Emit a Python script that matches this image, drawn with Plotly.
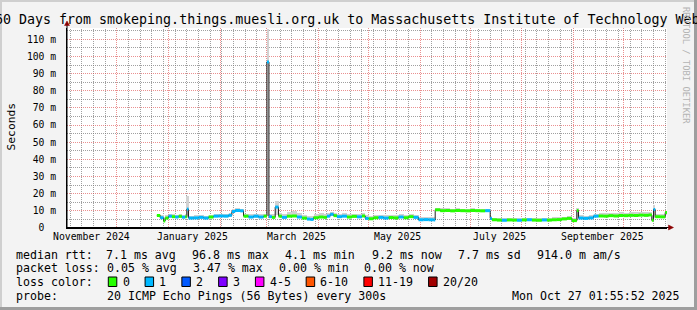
import plotly.graph_objects as go
import pandas as pd

# ---------------- data ----------------
range_start = "2024-11-01 01:55:52"
range_end = "2025-10-27 01:55:52"

dates = [
    "2024-12-25", "2024-12-27", "2024-12-29", "2024-12-30", "2025-01-01", "2025-01-03",
    "2025-01-05", "2025-01-07", "2025-01-09", "2025-01-11", "2025-01-12", "2025-01-13",
    "2025-01-16", "2025-01-19", "2025-01-22", "2025-01-25", "2025-01-28", "2025-01-31",
    "2025-02-03", "2025-02-06", "2025-02-08", "2025-02-10", "2025-02-13", "2025-02-15",
    "2025-02-18", "2025-02-21", "2025-02-24", "2025-02-27", "2025-03-01", "2025-03-02 06:00",
    "2025-03-04", "2025-03-06", "2025-03-08", "2025-03-10", "2025-03-13", "2025-03-16",
    "2025-03-19", "2025-03-22", "2025-03-25", "2025-03-27", "2025-03-29", "2025-04-01",
    "2025-04-04", "2025-04-06", "2025-04-08", "2025-04-10", "2025-04-12", "2025-04-15",
    "2025-04-18", "2025-04-21", "2025-04-24", "2025-04-27", "2025-04-29", "2025-05-01",
    "2025-05-04", "2025-05-07", "2025-05-10", "2025-05-13", "2025-05-16", "2025-05-19",
    "2025-05-22", "2025-05-25", "2025-05-28", "2025-05-31", "2025-06-03", "2025-06-06",
    "2025-06-09", "2025-06-10", "2025-06-13", "2025-06-16", "2025-06-19", "2025-06-22",
    "2025-06-25", "2025-06-28", "2025-07-01", "2025-07-04", "2025-07-07", "2025-07-10",
    "2025-07-13", "2025-07-14", "2025-07-17", "2025-07-20", "2025-07-23", "2025-07-26",
    "2025-07-29", "2025-08-01", "2025-08-04", "2025-08-07", "2025-08-10", "2025-08-13",
    "2025-08-16", "2025-08-19", "2025-08-22", "2025-08-25", "2025-08-28", "2025-08-31",
    "2025-09-03", "2025-09-04", "2025-09-07", "2025-09-10", "2025-09-13", "2025-09-16",
    "2025-09-19", "2025-09-22", "2025-09-25", "2025-09-28", "2025-10-01", "2025-10-04",
    "2025-10-07", "2025-10-10", "2025-10-13", "2025-10-16", "2025-10-18", "2025-10-19",
    "2025-10-20", "2025-10-23", "2025-10-26",
]
median_ms = [
    7.3, 6.0, 4.1, 5.8, 6.9, 6.6,
    6.4, 6.8, 6.3, 6.6, 11.0, 5.8,
    5.9, 6.2, 5.8, 6.4, 6.9, 7.0,
    6.9, 7.4, 9.6, 10.2, 10.0, 6.9,
    6.4, 6.9, 6.4, 6.9, 96.8, 6.6,
    6.2, 12.2, 6.9, 6.2, 6.9, 7.0,
    6.4, 5.8, 5.2, 5.0, 6.0, 6.4,
    6.2, 6.9, 8.0, 7.2, 6.6, 6.9,
    6.4, 6.8, 6.5, 7.0, 5.6, 5.4,
    6.0, 6.2, 5.8, 6.1, 5.9, 6.4,
    6.0, 6.6, 6.2, 4.8, 4.9, 4.8,
    4.7, 10.6, 10.1, 10.2, 10.0, 10.2,
    10.1, 10.0, 10.2, 10.1, 10.0, 10.1,
    5.6, 4.8, 4.6, 4.5, 4.7, 4.6,
    4.5, 4.7, 4.8, 4.6, 4.5, 4.7,
    4.6, 4.8, 4.9, 5.3, 5.6, 4.3,
    10.2, 5.8, 5.6, 5.9, 6.9, 7.0,
    6.9, 7.2, 7.0, 7.3, 7.2, 7.4,
    7.3, 7.5, 7.4, 7.6, 4.5, 10.8,
    6.6, 6.5, 9.0,
]
smoke_lo_ms = [
    6.6, 5.2, 3.9, 5.0, 6.1, 5.9,
    5.8, 6.0, 5.7, 5.9, 6.0, 5.3,
    5.4, 5.6, 5.3, 5.8, 6.2, 6.3,
    6.2, 6.6, 8.8, 9.4, 9.2, 6.2,
    5.7, 6.1, 5.8, 6.2, 7.0, 6.0,
    5.6, 7.5, 6.2, 5.6, 6.2, 6.3,
    5.8, 5.3, 4.8, 4.6, 5.4, 5.8,
    5.6, 6.2, 7.2, 6.5, 5.9, 6.2,
    5.8, 6.1, 5.9, 6.3, 5.1, 4.9,
    5.4, 5.6, 5.3, 5.5, 5.4, 5.8,
    5.4, 5.9, 5.6, 4.4, 4.5, 4.4,
    4.3, 9.8, 9.5, 9.6, 9.4, 9.6,
    9.5, 9.4, 9.6, 9.5, 9.4, 9.5,
    5.0, 4.4, 4.3, 4.2, 4.3, 4.3,
    4.2, 4.3, 4.4, 4.3, 4.2, 4.3,
    4.3, 4.4, 4.5, 4.8, 5.0, 4.0,
    5.0, 5.2, 5.1, 5.3, 6.2, 6.3,
    6.2, 6.5, 6.3, 6.6, 6.5, 6.7,
    6.6, 6.8, 6.7, 6.9, 4.2, 6.0,
    6.0, 5.9, 7.4,
]
smoke_hi_ms = [
    8.4, 7.6, 6.2, 7.4, 8.0, 7.9,
    7.8, 8.2, 7.6, 8.0, 18.5, 7.2,
    7.3, 7.5, 7.2, 7.8, 8.1, 8.3,
    8.2, 8.6, 11.0, 11.5, 11.3, 8.4,
    8.0, 8.3, 7.9, 8.2, 116.0, 8.2,
    8.0, 16.0, 9.0, 8.2, 9.6, 9.9,
    8.8, 7.8, 7.0, 6.8, 8.0, 8.5,
    8.2, 8.6, 9.3, 8.6, 8.3, 8.6,
    8.0, 8.3, 8.0, 8.5, 7.4, 7.0,
    7.6, 7.8, 7.4, 7.7, 7.5, 7.9,
    7.6, 8.0, 7.7, 6.4, 6.5, 6.3,
    6.2, 11.6, 11.4, 11.5, 11.3, 11.4,
    11.3, 11.2, 11.4, 11.3, 11.2, 11.3,
    6.8, 6.0, 5.9, 5.8, 6.0, 5.9,
    5.8, 6.0, 6.1, 5.9, 5.8, 6.0,
    5.9, 6.2, 6.3, 6.7, 7.0, 5.8,
    11.5, 7.4, 7.2, 7.4, 8.4, 8.6,
    8.6, 8.9, 8.8, 9.1, 9.0, 9.3,
    9.3, 9.5, 9.4, 9.6, 7.0, 13.5,
    8.4, 8.3, 9.6,
]
loss_bin = [
    0, 1, 0, 0, 1, 0,
    1, 0, 1, 0, 1, 1,
    1, 1, 1, 0, 1, 1,
    1, 1, 1, 1, 1, 0,
    1, 1, 1, 0, 1, 1,
    0, 1, 0, 1, 0, 0,
    1, 0, 1, 1, 0, 0,
    0, 1, 1, 0, 1, 1,
    0, 0, 1, 0, 1, 0,
    0, 1, 1, 0, 0, 1,
    0, 0, 1, 1, 1, 1,
    1, 0, 0, 0, 0, 0,
    0, 0, 0, 0, 0, 1,
    1, 0, 0, 1, 0, 0,
    1, 0, 1, 0, 0, 1,
    0, 0, 0, 0, 0, 0,
    0, 1, 1, 1, 1, 0,
    0, 0, 0, 0, 0, 0,
    0, 0, 0, 0, 0, 1,
    0, 0, 0,
]

loss_labels = ["0", "1", "2", "3", "4-5", "6-10", "11-19", "20/20"]
loss_colors = ["#26ff00", "#00b8ff", "#0059ff", "#7e00ff", "#ff00ff", "#ff5500", "#ff0000", "#a10000"]

month_label_dates = ["2024-11-15 12:00", "2025-01-15 12:00", "2025-03-18 12:00",
                     "2025-05-18 12:00", "2025-07-18 12:00", "2025-09-18 12:00"]
month_labels = ["November 2024", "January 2025", "March 2025", "May 2025", "July 2025", "September 2025"]

y_tick_vals = [0, 10, 20, 30, 40, 50, 60, 70, 80, 90, 100, 110]
y_tick_text = ["0\u00a0\u00a0", "10 m", "20 m", "30 m", "40 m", "50 m", "60 m", "70 m",
               "80 m", "90 m", "100 m", "110 m"]
y_minor_vals = [5, 15, 25, 35, 45, 55, 65, 75, 85, 95, 105, 115]

title_text = "360 Days from smokeping.things.muesli.org.uk to Massachusetts Institute of Technology Web"
stat_lines = [
    ["median rtt:", "7.1 ms avg", "96.8 ms max", "4.1 ms min", "9.2 ms now", "7.7 ms sd", "914.0 m am/s"],
    ["packet loss:", "0.05 % avg", "3.47 % max", "0.00 % min", "0.00 % now"],
    ["probe:", "20 ICMP Echo Pings (56 Bytes) every 300s"],
]
timestamp_text = "Mon Oct 27 01:55:52 2025"

# ---------------- layout helpers ----------------
W, H = 697, 310
L, T, PW, PH = 67, 28, 600, 200
MONO = "DejaVu Sans Mono"
Y_MAX = 116.6


def px(x):
    return (x - L) / PW


def py(y):
    return (T + PH - y) / PH


t = pd.to_datetime(pd.Series(dates), format="mixed")
t_start = pd.Timestamp(range_start)
t_end = pd.Timestamp(range_end)
span = t_end - t_start
ends = list(t.iloc[1:]) + [t_end]
widths = [(e - s).total_seconds() * 1000 for s, e in zip(t, ends)]


def crisp_date(d):
    # nudge a grid date onto a pixel centre so 1px dotted lines render sharply
    p = (pd.Timestamp(d) - t_start) / span * PW
    p = round(p - 0.5) + 0.5
    return t_start + span * (p / PW)


def crisp_y(v):
    p = (1 - v / Y_MAX) * PH
    p = round(p - 0.5) + 0.5
    return (1 - p / PH) * Y_MAX


# grid positions (weekly minor, monthly major)
week_grid = list(pd.date_range("2024-11-03", t_end, freq="7D"))
month_grid = [d.strftime("%Y-%m-%d") for d in pd.date_range("2024-12-01", t_end, freq="MS")]

fig = go.Figure()

# smoke
fig.add_trace(go.Bar(
    x=t, y=[h - l for h, l in zip(smoke_hi_ms, smoke_lo_ms)], base=smoke_lo_ms,
    width=widths, offset=0, marker=dict(color="#d2d2d2", line=dict(width=0)),
    hoverinfo="skip"))

# dark median connector line
fig.add_trace(go.Scatter(
    x=list(t) + [t_end], y=median_ms + [median_ms[-1]], mode="lines",
    line=dict(color="#202020", width=1, shape="hv"), hoverinfo="skip"))

# coloured median segments by loss
for b, col in enumerate(loss_colors):
    xs, ys = [], []
    for i, lb in enumerate(loss_bin):
        if lb == b:
            xs += [t.iloc[i], ends[i], None]
            ys += [median_ms[i], median_ms[i], None]
    if xs:
        fig.add_trace(go.Scatter(x=xs, y=ys, mode="lines",
                                 line=dict(color=col, width=3), hoverinfo="skip"))

major_grid = "rgba(220,70,70,0.6)"
minor_grid = "rgba(120,120,120,0.7)"

fig.update_layout(
    width=W, height=H, margin=dict(l=L, r=W - L - PW, t=T, b=H - T - PH),
    paper_bgcolor="#f3f3f3", plot_bgcolor="#ffffff", showlegend=False,
    barmode="overlay", bargap=0,
    font=dict(family=MONO, color="#000000"),
    xaxis=dict(
        type="date", range=[range_start, range_end], tickmode="array",
        tickvals=month_grid, showticklabels=False, ticks="",
        showgrid=True, gridcolor=major_grid, griddash="1px,1px", gridwidth=1,
        showline=True, linecolor="#000000", linewidth=1, zeroline=False, fixedrange=True),
    yaxis=dict(
        range=[0, Y_MAX], tickmode="array", tickvals=y_tick_vals, ticktext=y_tick_text,
        ticks="", ticklabelstandoff=8,
        tickfont=dict(family=MONO, size=9.7, color="#000000"),
        showgrid=True, gridcolor=major_grid, griddash="1px,1px", gridwidth=1,
        showline=True, linecolor="#000000", linewidth=1, zeroline=False, fixedrange=True),
)

shapes = []
# minor grid lines (weekly verticals, 5 m horizontals)
for wg in week_grid:
    if wg.strftime("%Y-%m-%d") in month_grid:
        continue
    xg = crisp_date(wg)
    shapes.append(dict(type="line", xref="x", yref="paper", x0=xg, x1=xg, y0=0, y1=1,
                       layer="below", line=dict(color=minor_grid, width=1, dash="1px,1px")))
for yv in y_minor_vals:
    yg = crisp_y(yv)
    shapes.append(dict(type="line", xref="paper", yref="y", x0=0, x1=1, y0=yg, y1=yg,
                       layer="below", line=dict(color=minor_grid, width=1, dash="1px,1px")))

ann = []
# title
ann.append(dict(text=title_text, x=px(343), y=py(20), xanchor="center", yanchor="middle",
                font=dict(family=MONO, size=13.3, color="#000000")))
# y title
ann.append(dict(text="Seconds", x=px(10.5), y=py(127), xanchor="center", yanchor="middle",
                textangle=-90, font=dict(family=MONO, size=11.3, color="#000000")))
# watermark
ann.append(dict(text="RRDTOOL / TOBI OETIKER", x=px(686), y=py(65), xanchor="center",
                yanchor="middle", textangle=90, font=dict(family=MONO, size=8.8, color="#b4b4b4")))
# month labels
for d, lab in zip(month_label_dates, month_labels):
    ann.append(dict(text=lab, x=d, xref="x", y=py(236.5), xanchor="center", yanchor="middle",
                    font=dict(family=MONO, size=9.8, color="#000000")))

# statistics legend
stat_x = [
    [15.5, 106.3, 192.3, 285.3, 371.6, 458.3, 536.6],
    [15.5, 106.5, 192.5, 278.6, 364.3],
    [15.5, 106.6],
]
stat_y = [254.5, 268.2, 296.2]
for line, xs, yy in zip(stat_lines, stat_x, stat_y):
    for seg, xx in zip(line, xs):
        ann.append(dict(text=seg, x=px(xx), y=py(yy), xanchor="left", yanchor="middle",
                        font=dict(family=MONO, size=11.6, color="#000000")))
ann.append(dict(text=timestamp_text, x=px(512), y=py(296.2), xanchor="left", yanchor="middle",
                font=dict(family=MONO, size=11.6, color="#000000")))
ann.append(dict(text="loss color:", x=px(15.5), y=py(282), xanchor="left", yanchor="middle",
                font=dict(family=MONO, size=11.6, color="#000000")))

# loss colour boxes + labels
CW = 6.98
bx = 108.3
for lab, col in zip(loss_labels, loss_colors):
    shapes.append(dict(type="rect", xref="paper", yref="paper", x0=px(bx), x1=px(bx + 8.5),
                       y0=py(286.5), y1=py(277), fillcolor=col, line=dict(color="#000000", width=1)))
    lx = bx + 14.3
    ann.append(dict(text=lab, x=px(lx), y=py(282), xanchor="left", yanchor="middle",
                    font=dict(family=MONO, size=11.6, color="#000000")))
    bx = lx + len(lab) * CW + 15.5

for a in ann:
    a.setdefault("xref", "paper")
    a.setdefault("yref", "paper")
    a["showarrow"] = False
    a["borderpad"] = 0
    a["borderwidth"] = 0

# frame
shapes += [
    dict(type="rect", xref="paper", yref="paper", x0=px(0), x1=px(W), y0=py(2), y1=py(0),
         fillcolor="#cfcfcf", line=dict(width=0), layer="below"),
    dict(type="rect", xref="paper", yref="paper", x0=px(0), x1=px(2), y0=py(H), y1=py(0),
         fillcolor="#cfcfcf", line=dict(width=0), layer="below"),
    dict(type="rect", xref="paper", yref="paper", x0=px(0), x1=px(W), y0=py(H), y1=py(H - 3),
         fillcolor="#9e9e9e", line=dict(width=0), layer="below"),
    dict(type="rect", xref="paper", yref="paper", x0=px(W - 3), x1=px(W), y0=py(H), y1=py(0),
         fillcolor="#9e9e9e", line=dict(width=0), layer="below"),
]
# axis extensions and arrows
shapes += [
    dict(type="line", xref="paper", yref="paper", x0=px(67), x1=px(67), y0=py(228), y1=py(24),
         line=dict(color="#000000", width=1)),
    dict(type="line", xref="paper", yref="paper", x0=px(67), x1=px(669), y0=py(227.5), y1=py(227.5),
         line=dict(color="#000000", width=1)),
    dict(type="path", xref="paper", yref="paper",
         path=f"M {px(64.5)},{py(25.5)} L {px(69.5)},{py(25.5)} L {px(67)},{py(21)} Z",
         fillcolor="#8b0000", line=dict(color="#8b0000", width=0.5)),
    dict(type="path", xref="paper", yref="paper",
         path=f"M {px(668.5)},{py(225)} L {px(668.5)},{py(230)} L {px(673.5)},{py(227.5)} Z",
         fillcolor="#8b0000", line=dict(color="#8b0000", width=0.5)),
]

fig.update_layout(annotations=ann, shapes=shapes)
fig.write_html("out.html")
